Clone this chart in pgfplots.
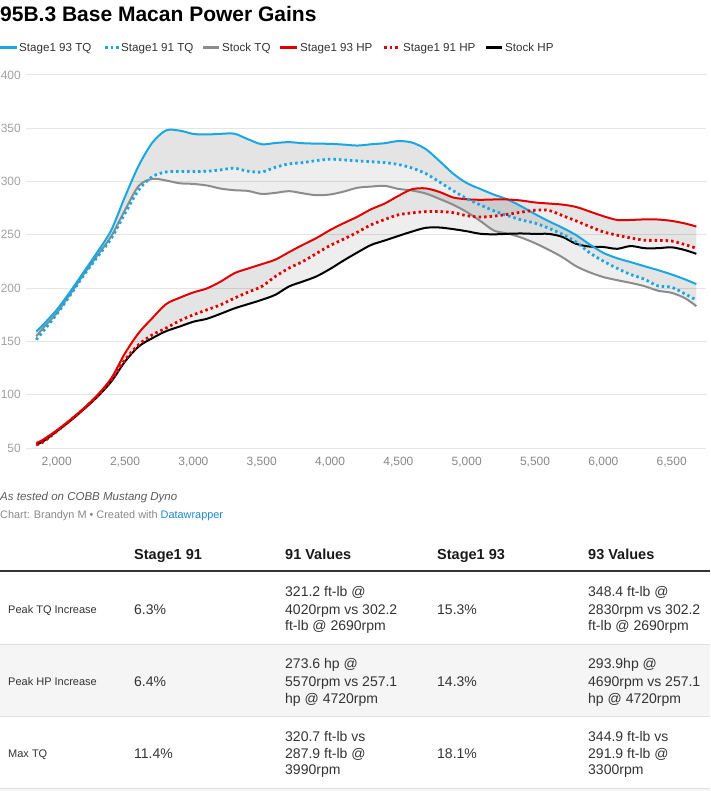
\documentclass[border=0pt]{standalone}
\usepackage{fontspec}
\setmainfont{Liberation Sans}
\usepackage{pgfplots}
\pgfplotsset{compat=1.18}
\usepgfplotslibrary{fillbetween}
\usepackage{pgfplotstable}

\definecolor{cblue}{RGB}{24,167,224}
\definecolor{cred}{RGB}{225,0,0}
\definecolor{cgray}{RGB}{140,140,140}
\definecolor{cgrid}{RGB}{229,229,229}
\definecolor{ticky}{RGB}{160,160,160}
\definecolor{tickx}{RGB}{136,136,136}
\definecolor{dwblue}{RGB}{29,138,200}
\definecolor{rowbg}{RGB}{245,245,245}
\definecolor{rulec}{RGB}{224,224,224}
\definecolor{txt}{RGB}{51,51,51}

\pgfplotstableread{
rpm t93 t91 tst h93 h91 hst
1850 159.4 151.6 154.7 54.7 53.0 53.0
1900 165.6 159.4 162.5 57.8 55.6 56.2
2000 179.7 175.6 176.6 66.6 65.6 65.6
2100 197.0 193.7 194.7 76.6 76.0 75.6
2200 215.6 212.5 213.4 87.5 87.0 86.6
2300 234.4 229.7 231.2 100.0 99.0 98.4
2400 254.7 246.9 249.0 115.6 114.0 112.5
2500 286.0 270.3 273.4 139.0 132.8 131.2
2600 315.0 292.2 296.0 158.0 147.0 145.3
2700 336.6 304.7 302.5 172.0 156.2 153.1
2800 348.0 309.0 301.0 185.0 162.5 159.6
2900 347.8 309.4 298.4 191.0 169.5 164.0
3000 344.7 309.4 297.8 196.0 175.0 168.5
3100 344.2 309.7 296.3 199.8 179.7 171.3
3200 344.8 311.0 293.4 206.2 184.4 176.0
3300 344.9 312.5 291.9 214.0 190.6 181.0
3400 339.7 309.7 291.2 218.4 196.2 185.0
3500 335.0 309.0 288.4 222.5 201.6 189.0
3600 336.2 313.4 289.4 226.8 211.0 193.8
3700 337.0 316.6 291.0 233.8 218.8 201.6
3800 336.0 317.8 289.0 240.6 225.0 206.2
3900 335.6 319.7 287.2 247.0 232.5 211.0
4000 335.4 321.0 287.9 254.5 240.0 218.0
4100 334.7 320.3 290.6 261.0 246.0 226.0
4200 333.8 319.4 294.2 267.0 252.5 233.5
4300 335.0 318.6 295.3 274.0 259.4 240.5
4400 336.0 317.8 296.0 279.4 264.4 244.7
4500 338.0 316.0 293.1 286.6 268.8 249.0
4600 336.6 312.7 291.6 292.8 270.6 253.1
4700 330.5 307.5 288.8 293.6 271.8 256.6
4800 319.4 299.7 283.8 290.3 271.9 256.9
4900 307.5 291.5 278.3 285.1 270.8 255.4
5000 298.6 284.0 271.5 283.4 268.0 253.4
5100 293.0 278.0 263.0 282.9 266.7 251.0
5200 287.7 272.5 254.0 283.2 267.6 250.5
5300 283.1 268.0 251.2 283.2 269.3 251.0
5400 276.7 264.0 247.4 282.2 271.3 251.3
5500 269.5 261.0 242.2 280.4 273.1 250.9
5600 262.8 256.2 236.0 279.4 273.0 250.9
5700 256.7 250.5 229.0 278.4 268.1 248.1
5800 249.8 243.3 220.6 276.2 263.1 241.6
5900 241.0 233.1 214.8 271.9 257.8 239.0
6000 233.1 225.3 210.4 267.5 252.8 238.6
6100 228.1 218.6 207.5 264.0 249.7 236.9
6200 224.4 212.8 204.9 264.0 247.1 239.5
6300 220.6 208.4 201.9 264.5 245.0 237.5
6400 216.9 202.0 197.6 264.4 244.8 237.5
6500 212.8 200.8 195.6 263.1 244.2 238.3
6600 208.1 194.4 190.4 260.6 240.7 235.6
6680 203.8 188.8 183.1 257.8 237.5 232.2
}\dyno

\newcommand{\fs}[2]{\fontsize{#1}{#2}\selectfont}
\newcommand{\cell}[3]{\node[anchor=base west, inner sep=0pt, text=txt] at (#1,-#2) {\fs{14}{17}#3};}
\newcommand{\rlabel}[2]{\node[anchor=base west, inner sep=0pt, text=txt] at (8pt,-#1) {\fs{11}{13}#2};}
\tikzset{dotln/.style={line width=2.8pt, line cap=butt, dash pattern=on 2.5pt off 3pt}}

\begin{document}
\begin{tikzpicture}

% title
\node[anchor=base west, inner sep=0pt] at (0pt,-21.5pt) {\fs{21}{24}\bfseries 95B.3 Base Macan Power Gains};

% legend
\begin{scope}[line width=2.5pt]
\draw[cblue] (0pt,-47.7pt) -- (17pt,-47.7pt);
\draw[cblue, dotln] (105pt,-47.7pt) -- (118.5pt,-47.7pt);
\draw[cgray] (203pt,-47.7pt) -- (219pt,-47.7pt);
\draw[cred] (280pt,-47.7pt) -- (297pt,-47.7pt);
\draw[cred, dotln] (384pt,-47.7pt) -- (397.5pt,-47.7pt);
\draw[black] (486pt,-47.7pt) -- (502pt,-47.7pt);
\end{scope}
\foreach \xx/\tt in {19/Stage1 93 TQ, 121/Stage1 91 TQ, 222/Stock TQ, 300/Stage1 93 HP, 403/Stage1 91 HP, 505/Stock HP}
  \node[anchor=base west, inner sep=0pt, text=txt] at (\xx pt,-52pt) {\fs{11.6}{14}\tt};

\begin{axis}[
  at={(26pt,-448pt)}, anchor=south west,
  scale only axis, width=680pt, height=373pt,
  xmin=1775, xmax=6751, ymin=50, ymax=400,
  ytick={50,100,...,400}, xtick={2000,2500,...,6500},
  ymajorgrids, grid style={draw=cgrid, line width=1pt},
  axis line style={draw=none}, major tick length=0pt,
  yticklabel style={font=\fs{12}{14}, text=ticky, anchor=east, inner sep=0pt, xshift=-5pt},
  xticklabel style={font=\fs{12}{14}, text=tickx, anchor=north, inner sep=0pt, yshift=-9pt},
  xticklabel={\pgfmathprintnumber[1000 sep={,}, assume math mode=true]{\tick}},
  yticklabel={\pgfmathprintnumber[assume math mode=true]{\tick}},
]
\addplot[name path=Atst, draw=none, smooth, forget plot] table[x=rpm,y=tst]{\dyno};
\addplot[name path=Ahst, draw=none, smooth, forget plot] table[x=rpm,y=hst]{\dyno};
\addplot[name path=At93, draw=none, smooth, forget plot] table[x=rpm,y=t93]{\dyno};
\addplot[name path=Ah93, draw=none, smooth, forget plot] table[x=rpm,y=h93]{\dyno};
\addplot[name path=At91, draw=none, smooth, forget plot] table[x=rpm,y=t91]{\dyno};
\addplot[name path=Ah91, draw=none, smooth, forget plot] table[x=rpm,y=h91]{\dyno};
\addplot[fill=black, fill opacity=0.065, draw=none, forget plot] fill between[of=At93 and Atst];
\addplot[fill=black, fill opacity=0.065, draw=none, forget plot] fill between[of=Ah93 and Ahst];
\addplot[fill=black, fill opacity=0.045, draw=none, forget plot] fill between[of=At93 and At91];
\addplot[fill=black, fill opacity=0.045, draw=none, forget plot] fill between[of=Ah93 and Ah91];
\addplot[cgray, line width=2pt, smooth, line join=round] table[x=rpm,y=tst]{\dyno};
\addplot[black, line width=2pt, smooth, line join=round] table[x=rpm,y=hst]{\dyno};
\addplot[cblue, line width=2pt, smooth, line join=round] table[x=rpm,y=t93]{\dyno};
\addplot[cred, line width=2pt, smooth, line join=round] table[x=rpm,y=h93]{\dyno};
\addplot[cblue, dotln, smooth] table[x=rpm,y=t91]{\dyno};
\addplot[cred, dotln, smooth] table[x=rpm,y=h91]{\dyno};
\end{axis}

% notes
\node[anchor=base west, inner sep=0pt, text={rgb,255:red,90;green,90;blue,90}] at (0pt,-500pt) {\fs{11.5}{14}\itshape As tested on COBB Mustang Dyno};
\node[anchor=base west, inner sep=0pt, text={rgb,255:red,136;green,136;blue,136}] at (0pt,-518pt) {\fs{10.9}{13}Chart: Brandyn M \textbullet\ Created with \textcolor{dwblue}{Datawrapper}};

% table
\fill[rowbg] (0pt,-644pt) rectangle (710pt,-716pt);
\fill[rowbg] (0pt,-788pt) rectangle (710pt,-791pt);
\draw[rulec, line width=1pt] (0pt,-644pt) -- (710pt,-644pt);
\draw[rulec, line width=1pt] (0pt,-716pt) -- (710pt,-716pt);
\draw[rulec, line width=1pt] (0pt,-788pt) -- (710pt,-788pt);
\draw[black!80, line width=2.2pt] (0pt,-571pt) -- (710pt,-571pt);
\foreach \xx/\tt in {134/Stage1 91, 285/91 Values, 437/Stage1 93, 588/93 Values}
  \node[anchor=base west, inner sep=0pt, text=black!90] at (\xx pt,-559pt) {\fs{14.5}{17}\bfseries \tt};

\rlabel{613pt}{Peak TQ Increase}
\cell{134pt}{614pt}{6.3\%}
\cell{285pt}{596.7pt}{321.2 ft-lb @}
\cell{285pt}{614pt}{4020rpm vs 302.2}
\cell{285pt}{630.7pt}{ft-lb @ 2690rpm}
\cell{437pt}{614pt}{15.3\%}
\cell{588pt}{596.7pt}{348.4 ft-lb @}
\cell{588pt}{614pt}{2830rpm vs 302.2}
\cell{588pt}{630.7pt}{ft-lb @ 2690rpm}

\rlabel{685pt}{Peak HP Increase}
\cell{134pt}{686pt}{6.4\%}
\cell{285pt}{668.5pt}{273.6 hp @}
\cell{285pt}{686pt}{5570rpm vs 257.1}
\cell{285pt}{703pt}{hp @ 4720rpm}
\cell{437pt}{686pt}{14.3\%}
\cell{588pt}{668.5pt}{293.9hp @}
\cell{588pt}{686pt}{4690rpm vs 257.1}
\cell{588pt}{703pt}{hp @ 4720rpm}

\rlabel{757pt}{Max TQ}
\cell{134pt}{758pt}{11.4\%}
\cell{285pt}{741pt}{320.7 ft-lb vs}
\cell{285pt}{758pt}{287.9 ft-lb @}
\cell{285pt}{774pt}{3990rpm}
\cell{437pt}{758pt}{18.1\%}
\cell{588pt}{741pt}{344.9 ft-lb vs}
\cell{588pt}{758pt}{291.9 ft-lb @}
\cell{588pt}{774pt}{3300rpm}

\pgfresetboundingbox
\useasboundingbox (0pt,0pt) rectangle (710pt,-791pt);
\end{tikzpicture}
\end{document}
